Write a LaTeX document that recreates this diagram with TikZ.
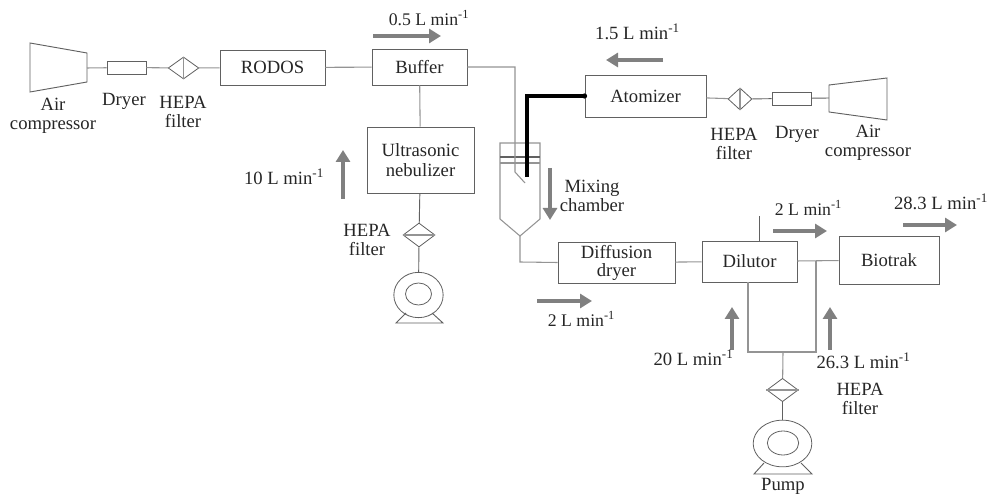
\documentclass[tikz,border=0pt]{standalone}
\usepackage{fontspec}
\setmainfont{Liberation Serif}
\usetikzlibrary{shapes.geometric,arrows.meta}
\definecolor{linegray}{gray}{0.58}
\definecolor{darkline}{gray}{0.38}
\definecolor{flowgray}{gray}{0.5}
\newcommand{\lpm}[1]{#1 L min\textsuperscript{-1}}
\tikzset{
  x=0.75pt,y=-0.75pt,
  pipe/.style={draw=linegray,line width=0.8pt},
  darkpipe/.style={draw=darkline,line width=0.7pt},
  boxnode/.style={draw=darkline,line width=0.7pt,rectangle,inner sep=0pt,align=center,font=\fontsize{14}{14.5}\selectfont,text=black!85},
  filternode/.style={draw=darkline,line width=0.6pt,diamond,inner sep=0pt},
  outline/.style={draw=darkline,line width=0.7pt},
  lab/.style={inner sep=0pt,align=center,text=black!85,font=\fontsize{14}{14.5}\selectfont},
  smalllab/.style={lab,font=\fontsize{13.3}{14}\selectfont},
  flow/.style={draw=flowgray,line width=3.6pt,-{Triangle[length=9pt,width=10.5pt]}},
  wheel/.style={draw=darkline,line width=0.6pt,ellipse,inner sep=0pt},
}
\begin{document}
\begin{tikzpicture}
\useasboundingbox (0,0) rectangle (987,498);
% boxes
\node[boxnode,minimum width=78.75pt,minimum height=26.25pt] (rodos) at (272.5,67.5) {RODOS};
\node[boxnode,minimum width=71.25pt,minimum height=27pt] (buffer) at (419.5,67) {Buffer};
\node[boxnode,minimum width=80.25pt,minimum height=49.5pt] (neb) at (420.5,160) {Ultrasonic\\[1pt]nebulizer};
\node[boxnode,minimum width=90.75pt,minimum height=31.5pt] (atom) at (645.5,96) {Atomizer};
\node[boxnode,minimum width=87.75pt,minimum height=30.75pt] (diff) at (616.5,262.5) {Diffusion\\[-1pt]dryer};
\node[boxnode,minimum width=71.25pt,minimum height=30.75pt] (dil) at (749.5,261.5) {Dilutor};
\node[boxnode,minimum width=75pt,minimum height=36pt] (bio) at (889,260) {Biotrak};
\node[boxnode,minimum width=29.25pt,minimum height=9.75pt] (dryL) at (126.5,67.5) {};
\node[boxnode,minimum width=29.25pt,minimum height=9.75pt] (dryR) at (791.5,98.5) {};
% filters
\node[filternode,minimum width=23pt,minimum height=16.5pt] (hepaL) at (183.5,68) {};
\node[filternode,minimum width=18pt,minimum height=16.5pt] (hepaR) at (740,99) {};
\node[filternode,minimum width=24pt,minimum height=18pt] (hepaN) at (419,235) {};
\node[filternode,minimum width=23.5pt,minimum height=17.5pt] (hepaD) at (782.5,390) {};
\draw[pipe] (hepaL.north)--(hepaL.south);
\draw[pipe] (hepaR.north)--(hepaR.south);
\draw[pipe] (hepaN.west)--(hepaN.east);
\draw[pipe] (hepaD.west)--(hepaD.east);
% compressors
\draw[outline] (30,43)--(87,53)--(87,82)--(30,92)--cycle;
\coordinate (compL) at (87,68);
\draw[outline] (829,85)--(887,78)--(887,120)--(829,112)--cycle;
\coordinate (compR) at (829,98);
% pumps
\node[wheel,minimum width=37pt,minimum height=34pt] (pumpN) at (418.5,295) {};
\node[wheel,minimum width=19.5pt,minimum height=16.5pt] (rotN) at (418.5,294) {};
\node[wheel,minimum width=44pt,minimum height=35pt] (pumpD) at (782.5,443.5) {};
\node[wheel,minimum width=23.5pt,minimum height=18pt] (rotD) at (783,443) {};
\draw[outline] (406,313)--(396,323)--(443,323)--(432,313);
\draw[outline] (764,463)--(754,474)--(812,474)--(801,463);
% mixing chamber
\draw[pipe] (500,143)--(540,143)--(540,219)--(520,236)--(500,219)--cycle;
\draw[darkpipe,line width=0.9pt] (500,157)--(540,157);
\draw[pipe] (500,163)--(540,163);
\coordinate (mixin) at (515,143);
\coordinate (mixtip) at (520,236);
\coordinate (mixnoz) at (527,177);
% connectors
\draw[pipe] (compL)--(dryL);
\draw[pipe] (dryL)--(hepaL);
\draw[pipe] (hepaL)--(rodos);
\draw[pipe] (rodos)--(buffer);
\draw[pipe] (buffer)--(neb);
\draw[darkpipe] (neb)--(hepaN);
\draw[darkpipe] (hepaN)--(pumpN);
\draw[pipe] (buffer.east) -- (515,67)--(mixin)--(515,172)--(525,183);
\draw[black,line width=2.8pt] (mixnoz)--(527,96)--(atom.west);
\fill[black] (atom.west) circle[radius=2.6];
\draw[pipe] (atom)--(hepaR);
\draw[darkpipe] (hepaR)--(dryR);
\draw[darkpipe] (dryR)--(compR);
\draw[pipe] (mixtip)--(520,262)--(diff.west);
\draw[pipe] (diff)--(dil);
\draw[pipe] (dil)--(bio);
\coordinate (dilvent) at (759,216);
\draw[darkpipe] (dilvent)--(dilvent|-dil.north);
\draw[pipe] (748,282)--(748,352)--(816,352)--(816,261);
\draw[pipe] (783,352)--(hepaD);
\draw[darkpipe] (hepaD)--(pumpD);
% flows
\draw[flow] (373,36)--(441,36);
\draw[flow] (663,60)--(606,60);
\draw[flow] (343,199)--(343,150);
\draw[flow] (550,168)--(550,220);
\draw[flow] (537,301)--(592,301);
\draw[flow] (773,231)--(827,231);
\draw[flow] (903,225)--(957,225);
\draw[flow] (732,350)--(732,307);
\draw[flow] (830,350)--(830,307);
% labels
\node[smalllab] (t1) at (429,18) {\lpm{0.5}};
\node[lab] (t2) at (637.5,32) {\lpm{1.5}};
\node[lab] (t3) at (284,177) {\lpm{10}};
\node[smalllab] (t4) at (808.5,208) {\lpm{2}};
\node[lab] (t5) at (941,202) {\lpm{28.3}};
\node[smalllab] (t6) at (581.5,319) {\lpm{2}};
\node[lab] (t7) at (693.5,358) {\lpm{20}};
\node[lab] (t8) at (863.5,361) {\lpm{26.3}};
\node[lab] (a1) at (53,116) {Air\\compressor};
\node[lab] (a2) at (124,101) {Dryer};
\node[lab] (a3) at (183,112) {HEPA\\filter};
\node[lab] (a4) at (367,240) {HEPA\\filter};
\node[lab] (a5) at (592,196) {Mixing\\chamber};
\node[lab] (a6) at (734,144) {HEPA\\filter};
\node[lab] (a7) at (797,134) {Dryer};
\node[lab] (a8) at (868,143) {Air\\compressor};
\node[lab] (a9) at (860,399) {HEPA\\filter};
\node[lab] (a10) at (783,486) {Pump};
\end{tikzpicture}
\end{document}
